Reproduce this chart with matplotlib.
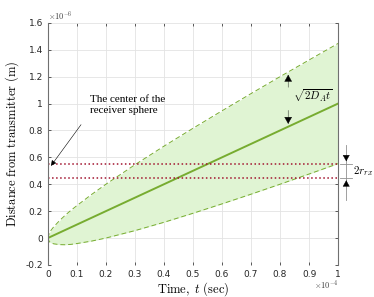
import matplotlib
matplotlib.use("Agg")
import matplotlib.pyplot as plt

plt.rcParams['mathtext.fontset'] = 'cm'

# time in units of 1e-4 s, distance in units of 1e-6 m
t = [0, 0.005, 0.01, 0.02, 0.04, 0.06, 0.08, 0.1, 0.15, 0.2, 0.3, 0.4,
     0.5, 0.6, 0.7, 0.8, 0.9, 1.0]
mean_dist = [0, 0.005, 0.01, 0.02, 0.04, 0.06, 0.08, 0.1, 0.15, 0.2, 0.3, 0.4,
             0.5, 0.6, 0.7, 0.8, 0.9, 1.0]
upper = [0, 0.037, 0.055, 0.083, 0.129, 0.170, 0.207, 0.241, 0.323, 0.400,
         0.545, 0.683, 0.816, 0.946, 1.074, 1.200, 1.324, 1.447]
lower = [0, -0.027, -0.035, -0.043, -0.049, -0.050, -0.047, -0.041, -0.023, 0.0,
         0.055, 0.117, 0.184, 0.254, 0.326, 0.400, 0.476, 0.553]
rx_top = 0.55
rx_bottom = 0.45

xticks = [0, 0.1, 0.2, 0.3, 0.4, 0.5, 0.6, 0.7, 0.8, 0.9, 1]
xticklabels = ['0', '0.1', '0.2', '0.3', '0.4', '0.5', '0.6', '0.7', '0.8', '0.9', '1']
yticks = [-0.2, 0, 0.2, 0.4, 0.6, 0.8, 1, 1.2, 1.4, 1.6]
yticklabels = ['-0.2', '0', '0.2', '0.4', '0.6', '0.8', '1', '1.2', '1.4', '1.6']

green = '#77ac30'
head = '-|>,head_width=0.25,head_length=0.45'
fig = plt.figure(figsize=(3.74, 2.97), dpi=100)
ax = fig.add_axes([0.128, 0.108, 0.776, 0.815])

ax.fill_between(t, lower, upper, color='#e0f4d3', lw=0)
ax.plot(t, upper, color=green, lw=0.7, ls=(0, (5, 3)))
ax.plot(t, lower, color=green, lw=0.7, ls=(0, (5, 3)))
ax.plot(t, mean_dist, color=green, lw=1.4)
ax.plot([0, 1], [rx_top, rx_top], color='#a2142f', lw=1.1, ls=':')
ax.plot([0, 1], [rx_bottom, rx_bottom], color='#a2142f', lw=1.1, ls=':')

ax.set_xlim(0, 1)
ax.set_ylim(-0.2, 1.6)
ax.set_xticks(xticks)
ax.set_xticklabels(xticklabels)
ax.set_yticks(yticks)
ax.set_yticklabels(yticklabels)
ax.tick_params(labelsize=6.5, colors='#404040', direction='in', length=2.5,
               width=0.6, top=True, right=True, labelcolor='#262626')
ax.grid(True, color='#e3e3e3', lw=0.6)
ax.set_axisbelow(True)
for s in ['top', 'bottom']:
    ax.spines[s].set_visible(False)
for s in ['left', 'right']:
    ax.spines[s].set_color('#707070')
    ax.spines[s].set_linewidth(0.8)

ax.set_xlabel(r'$\mathrm{Time,}\ t\ \mathrm{(sec)}$', fontsize=9, labelpad=1)
ax.set_ylabel(r'$\mathrm{Distance\ from\ transmitter\ (m)}$', fontsize=9, labelpad=3)
ax.text(0, 1.605, r'$\times10^{-6}$', fontsize=6, color='#404040', va='bottom')
ax.text(1, -0.3, r'$\times10^{-4}$', fontsize=6, color='#404040', ha='right', va='top')

# sqrt(2Dt) arrows
ax.annotate('', xy=(0.828, 1.235), xytext=(0.828, 1.1),
            arrowprops=dict(arrowstyle=head, color='k', lw=0.3, mutation_scale=10))
ax.annotate('', xy=(0.828, 0.828), xytext=(0.828, 0.97),
            arrowprops=dict(arrowstyle=head, color='k', lw=0.3, mutation_scale=10))
ax.text(0.845, 1.06, r'$\sqrt{2D_A t}$', fontsize=8, va='center')

# receiver center annotation
ax.annotate('', xy=(0.005, 0.52), xytext=(0.12, 0.86),
            arrowprops=dict(arrowstyle='-|>', color='k', lw=0.4, mutation_scale=8))
ax.text(0.145, 1.06, 'The center of the\nreceiver sphere', fontsize=8,
        family='Liberation Serif', va='top', linespacing=1.15)

# 2 r_rx marker outside axes
ax.plot([1.028, 1.028], [0.283, 0.69], color='#909090', lw=0.6, clip_on=False)
ax.plot([1.007, 1.048], [rx_top, rx_top], color='#909090', lw=0.6, clip_on=False)
ax.plot([1.007, 1.048], [rx_bottom, rx_bottom], color='#909090', lw=0.6, clip_on=False)
ax.annotate('', xy=(1.028, rx_top), xytext=(1.028, 0.62), annotation_clip=False,
            arrowprops=dict(arrowstyle=head, color='k', lw=0.3, mutation_scale=9))
ax.annotate('', xy=(1.028, rx_bottom), xytext=(1.028, 0.38), annotation_clip=False,
            arrowprops=dict(arrowstyle=head, color='k', lw=0.3, mutation_scale=9))
ax.text(1.05, 0.5, r'$2r_{rx}$', fontsize=8, va='center')

fig.savefig('out.png', dpi=100)
